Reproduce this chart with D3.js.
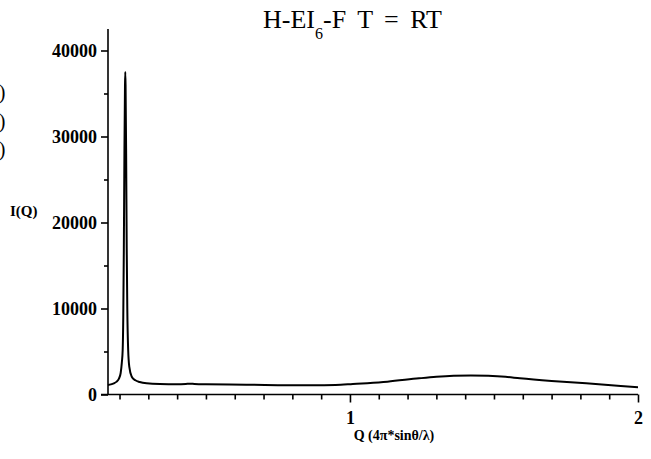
<!DOCTYPE html>
<html>
<head>
<meta charset="utf-8">
<script src="https://cdn.jsdelivr.net/npm/d3@7"></script>
<style>
  html, body { margin: 0; padding: 0; background: #fff; }
  svg { display: block; font-family: "Liberation Serif", "Times New Roman", serif; }
</style>
</head>
<body>
<div id="chart"></div>
<script>
// scattering curve I(Q)
const qValues = [0.160, 0.170, 0.180, 0.190, 0.198, 0.204, 0.208, 0.211, 0.213, 0.215,
  0.217, 0.219, 0.220, 0.221, 0.223, 0.225, 0.227, 0.230, 0.234, 0.242,
  0.255, 0.270, 0.294, 0.340, 0.400, 0.430, 0.445, 0.460, 0.500, 0.640,
  0.750, 0.870, 0.950, 1.010, 1.060, 1.130, 1.240, 1.300, 1.360, 1.420,
  1.480, 1.540, 1.590, 1.700, 1.820, 1.940, 2.000];
const iValues = [1100, 1180, 1300, 1500, 1850, 2500, 3700, 5200, 9000, 17000,
  28000, 36000, 37500, 36000, 28000, 17000, 10000, 5200, 3200, 2100,
  1650, 1450, 1300, 1220, 1200, 1230, 1260, 1220, 1180, 1140,
  1090, 1070, 1110, 1220, 1320, 1490, 1880, 2060, 2180, 2220,
  2180, 2060, 1890, 1580, 1300, 990, 850];

const yMajorTicks = [0, 10000, 20000, 30000, 40000];
const yMinorTicks = [5000, 15000, 25000, 35000];
const xMajorTicks = [1, 2];
const xMinorTicks = [0.2, 0.3, 0.4, 0.5, 0.6, 0.7, 0.8, 0.9, 1.1, 1.2, 1.3, 1.4, 1.5, 1.6, 1.7, 1.8, 1.9];
const legendStubs = [")", ")", ")"];

const W = 651, H = 459;
const svg = d3.select('#chart').append('svg').attr('width', W).attr('height', H);

const x = d3.scaleLinear().domain([0.16, 2.0]).range([108, 638]);
const y = d3.scaleLinear().domain([0, 42500]).range([394.5, 29]);

// cut-off legend remnants at the left edge
svg.selectAll('text.stub').data(legendStubs).join('text')
  .attr('class', 'stub')
  .attr('x', 5.5).attr('y', (d, i) => 99 + i * 28.5)
  .attr('text-anchor', 'end')
  .attr('font-size', '20px')
  .text(d => d);

// y axis
const yAxis = svg.append('g').attr('transform', `translate(${x.range()[0]},0)`);
yAxis.call(d3.axisLeft(y).tickValues(yMajorTicks).tickSize(7).tickPadding(4).tickFormat(d3.format('d')));
yAxis.append('g').call(d3.axisLeft(y).tickValues(yMinorTicks).tickSize(4).tickFormat(''))
  .select('.domain').remove();
yAxis.select('.domain').attr('d', `M0,${y.range()[1]}V${y.range()[0]}`);

// x axis
const xAxis = svg.append('g').attr('transform', `translate(0,${y.range()[0]})`);
xAxis.call(d3.axisBottom(x).tickValues(xMajorTicks).tickSize(8).tickPadding(9).tickFormat(d3.format('d')));
xAxis.append('g').call(d3.axisBottom(x).tickValues(xMinorTicks).tickSize(5).tickFormat(''))
  .select('.domain').remove();
xAxis.select('.domain').attr('d', `M${x.range()[0] - 7},0H${x.range()[1]}`);

svg.selectAll('.domain, .tick line').attr('stroke', '#000').attr('stroke-width', 1.6);
svg.selectAll('.tick text')
  .attr('fill', '#000')
  .attr('font-family', '"Liberation Serif", "Times New Roman", serif')
  .attr('font-weight', 'bold')
  .attr('font-size', '18px');

// curve
const pts = qValues.map((q, i) => [q, iValues[i]]);
svg.append('path')
  .datum(pts)
  .attr('fill', 'none')
  .attr('stroke', '#000')
  .attr('stroke-width', 2)
  .attr('stroke-linejoin', 'round')
  .attr('d', d3.line().x(d => x(d[0])).y(d => y(d[1])).curve(d3.curveMonotoneX));

// title
const title = svg.append('text').attr('x', 263).attr('y', 28)
  .attr('font-size', '26px').attr('word-spacing', '5px');
title.append('tspan').text('H-EI');
title.append('tspan').attr('dy', 11).attr('font-size', '16px').text('6');
title.append('tspan').attr('dy', -11).text('-F T = RT');

// axis titles
svg.append('text').attr('x', 10).attr('y', 216)
  .attr('font-size', '15px').attr('font-weight', 'bold').text('I(Q)');
svg.append('text').attr('x', 394).attr('y', 440)
  .attr('text-anchor', 'middle')
  .attr('font-size', '14px').attr('font-weight', 'bold').text('Q (4π*sinθ/λ)');
</script>
</body>
</html>
